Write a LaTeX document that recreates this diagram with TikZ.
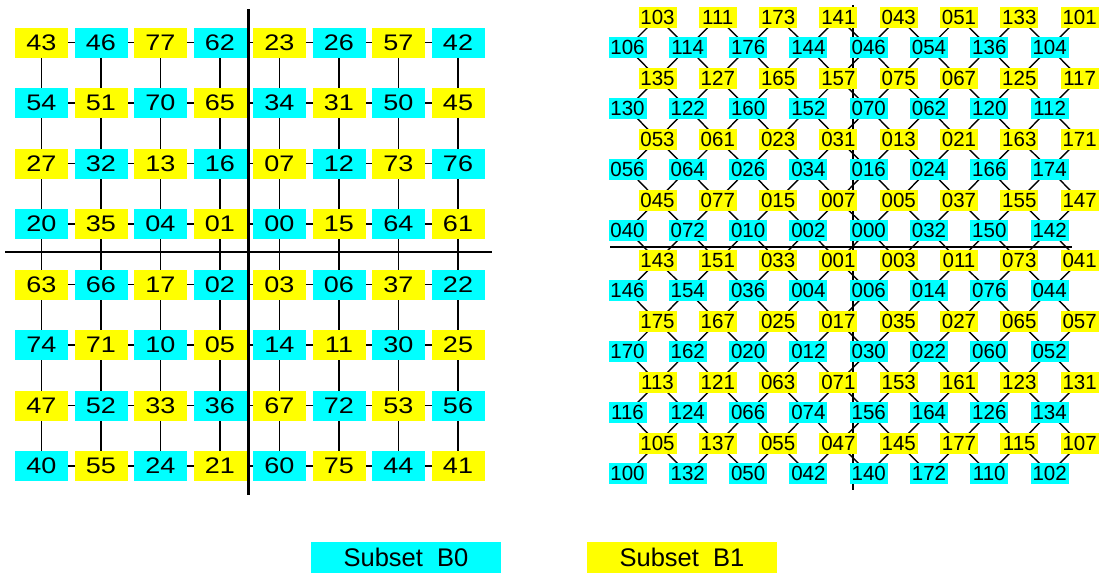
\documentclass[tikz,border=0pt]{standalone}
\usepackage{fontspec}
\setmainfont{Liberation Sans}
\usepackage{xcolor}
\usepackage{tikz}
\usetikzlibrary{backgrounds}
\definecolor{subsetzero}{HTML}{00FFFF}
\definecolor{subsetone}{HTML}{FFFF00}

\tikzset{
  bigcell/.style={minimum width=53pt, minimum height=30pt, inner sep=0pt, font=\fontsize{22.5}{22.5}\selectfont},
  smallcell/.style={minimum width=38pt, minimum height=21pt, inner sep=0pt, font=\fontsize{20.5}{20.5}\selectfont},
  link/.style={line width=1.4pt},
  axisline/.style={line width=2.6pt},
  legendbox/.style={minimum width=190pt, minimum height=31pt, inner sep=0pt, font=\fontsize{25.5}{25.5}\selectfont}
}

\begin{document}
\begin{tikzpicture}[x=1pt, y=-1pt]
\useasboundingbox (0,0) rectangle (1104,573);

% left 8x8 grid
\foreach \row [count=\rowi from 0] in {{43,46,77,62,23,26,57,42},{54,51,70,65,34,31,50,45},{27,32,13,16,07,12,73,76},{20,35,04,01,00,15,64,61},{63,66,17,02,03,06,37,22},{74,71,10,05,14,11,30,25},{47,52,33,36,67,72,53,56},{40,55,24,21,60,75,44,41}}{
  \foreach \v [count=\coli from 0] in \row {
    \pgfmathtruncatemacro{\odd}{mod(\rowi+\coli,2)}
    \ifnum\odd=0 \def\cellcol{subsetone}\else\def\cellcol{subsetzero}\fi
    \node[bigcell, fill=\cellcol] (L-\rowi-\coli) at ({41.5+59.5*\coli},{42.5+60.5*\rowi}) {\scalebox{1.2}[1]{\v}};
  }
}

% right staggered grid
\foreach \row [count=\rowi from 0] in {{103,111,173,141,043,051,133,101},{135,127,165,157,075,067,125,117},{053,061,023,031,013,021,163,171},{045,077,015,007,005,037,155,147},{143,151,033,001,003,011,073,041},{175,167,025,017,035,027,065,057},{113,121,063,071,153,161,123,131},{105,137,055,047,145,177,115,107}}{
  \foreach \v [count=\coli from 0] in \row {
    \node[smallcell, fill=subsetone] (Y-\rowi-\coli) at ({657.5+60.3*\coli},{17.5+60.85*\rowi}) {\v};
  }
}
\foreach \row [count=\rowi from 0] in {{106,114,176,144,046,054,136,104},{130,122,160,152,070,062,120,112},{056,064,026,034,016,024,166,174},{040,072,010,002,000,032,150,142},{146,154,036,004,006,014,076,044},{170,162,020,012,030,022,060,052},{116,124,066,074,156,164,126,134},{100,132,050,042,140,172,110,102}}{
  \foreach \v [count=\coli from 0] in \row {
    \node[smallcell, fill=subsetzero] (C-\rowi-\coli) at ({627.5+60.3*\coli},{47.5+60.85*\rowi}) {\v};
  }
}

\begin{scope}[on background layer]
  \foreach \ra in {0,...,7}{
    \foreach \ca in {0,...,6}{
      \pgfmathtruncatemacro{\cb}{\ca+1}
      \draw[link] (L-\ra-\ca.center) -- (L-\ra-\cb.center);
      \draw[link] (L-\ca-\ra.center) -- (L-\cb-\ra.center);
    }
  }
  \foreach \ra in {0,...,7}{
    \foreach \ca in {0,...,7}{
      \pgfmathtruncatemacro{\rb}{\ra+1}
      \pgfmathtruncatemacro{\cb}{\ca-1}
      \draw[link] (C-\ra-\ca.center) -- (Y-\ra-\ca.center);
      \ifnum\ca>0 \draw[link] (C-\ra-\ca.center) -- (Y-\ra-\cb.center); \fi
      \ifnum\ra<7 \draw[link] (C-\ra-\ca.center) -- (Y-\rb-\ca.center); \fi
      \ifnum\ra<7 \ifnum\ca>0 \draw[link] (C-\ra-\ca.center) -- (Y-\rb-\cb.center); \fi\fi
    }
  }
  \draw[axisline] (248.5,9) -- (248.5,495);
  \draw[axisline] (5,252) -- (492,252);
  \draw[axisline] (853,5) -- (853,490);
  \draw[axisline] (610,247) -- (1072,247);
\end{scope}

% legend
\node[legendbox, fill=subsetzero] (legzero) at (406,557.5) {Subset\ \ B0};
\node[legendbox, fill=subsetone] (legone) at (682,557.5) {Subset\ \ B1};
\end{tikzpicture}
\end{document}
